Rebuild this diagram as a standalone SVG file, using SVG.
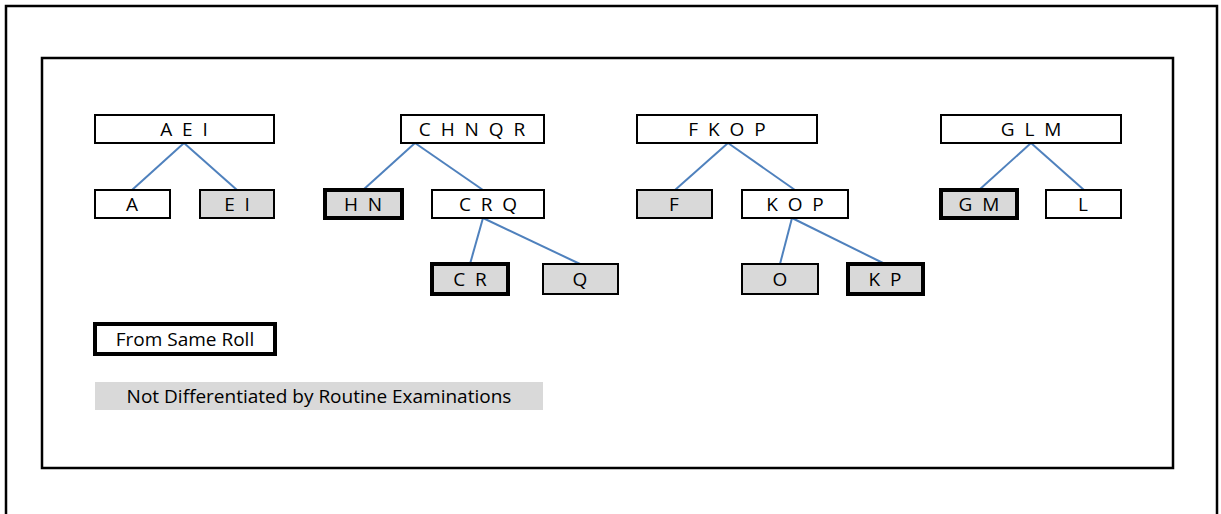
<svg xmlns="http://www.w3.org/2000/svg" width="1221" height="514" viewBox="0 0 1221 514">
<style>
.frame{fill:none;stroke:#000;stroke-width:2.5}
.n{fill:#fff;stroke:#000;stroke-width:2}
.g{fill:#d9d9d9;stroke:#000;stroke-width:2}
.nt{fill:#fff;stroke:#000;stroke-width:4}
.gt{fill:#d9d9d9;stroke:#000;stroke-width:4}
text{font-family:"Open Sans","Liberation Sans",sans-serif;font-size:19px;fill:#000;text-anchor:middle;white-space:pre}
.c line{stroke:#4f81bd;stroke-width:2}
</style>
<rect width="1221" height="514" fill="#fff"/>
<path class="frame" d="M6,520 V6 H1217 V520"/>
<rect class="frame" x="42" y="58" width="1131" height="410"/>
<g class="c" id="connectors">
<line x1="184" y1="143" x2="132" y2="190"/>
<line x1="184" y1="143" x2="237" y2="190"/>
<line x1="415" y1="143" x2="363" y2="190"/>
<line x1="415" y1="143" x2="483" y2="190"/>
<line x1="483" y1="218" x2="470" y2="264"/>
<line x1="483" y1="218" x2="580" y2="264"/>
<line x1="728" y1="143" x2="675" y2="190"/>
<line x1="728" y1="143" x2="795" y2="190"/>
<line x1="792" y1="218" x2="780" y2="264"/>
<line x1="792" y1="218" x2="885" y2="264"/>
<line x1="1031" y1="143" x2="979" y2="190"/>
<line x1="1031" y1="143" x2="1084" y2="190"/>
</g>
<g id="AEI"><rect class="n" x="95" y="115" width="179" height="28"/><text x="184" y="136" xml:space="preserve">A  E  I</text></g>
<g id="A"><rect class="n" x="95" y="190" width="75" height="28"/><text x="132" y="211">A</text></g>
<g id="EI"><rect class="g" x="200" y="190" width="74" height="28"/><text x="237" y="211" xml:space="preserve">E  I</text></g>
<g id="CHNQR"><rect class="n" x="401" y="115" width="143" height="28"/><text x="472" y="136" xml:space="preserve">C  H  N  Q  R</text></g>
<g id="HN"><rect class="gt" x="325" y="190" width="77" height="28"/><text x="363" y="211" xml:space="preserve">H  N</text></g>
<g id="CRQ"><rect class="n" x="432" y="190" width="112" height="28"/><text x="488" y="211" xml:space="preserve">C  R  Q</text></g>
<g id="CR"><rect class="gt" x="432" y="264" width="76" height="30"/><text x="470" y="286" xml:space="preserve">C  R</text></g>
<g id="Q"><rect class="g" x="543" y="264" width="75" height="30"/><text x="580" y="286">Q</text></g>
<g id="FKOP"><rect class="n" x="637" y="115" width="180" height="28"/><text x="727" y="136" xml:space="preserve">F  K  O  P</text></g>
<g id="F"><rect class="g" x="637" y="190" width="75" height="28"/><text x="674" y="211">F</text></g>
<g id="KOP"><rect class="n" x="742" y="190" width="106" height="28"/><text x="795" y="211" xml:space="preserve">K  O  P</text></g>
<g id="O"><rect class="g" x="742" y="264" width="76" height="30"/><text x="780" y="286">O</text></g>
<g id="KP"><rect class="gt" x="848" y="264" width="75" height="30"/><text x="885" y="286" xml:space="preserve">K  P</text></g>
<g id="GLM"><rect class="n" x="941" y="115" width="180" height="28"/><text x="1031" y="136" xml:space="preserve">G  L  M</text></g>
<g id="GM"><rect class="gt" x="941" y="190" width="76" height="28"/><text x="979" y="211" xml:space="preserve">G  M</text></g>
<g id="L"><rect class="n" x="1046" y="190" width="75" height="28"/><text x="1083" y="211">L</text></g>
<g id="legend-roll"><rect class="nt" x="95" y="324" width="180" height="30"/><text x="185" y="346">From Same Roll</text></g>
<g id="legend-grey"><rect x="95" y="382" width="448" height="28" fill="#d9d9d9"/><text x="319" y="403">Not Differentiated by Routine Examinations</text></g>
</svg>
